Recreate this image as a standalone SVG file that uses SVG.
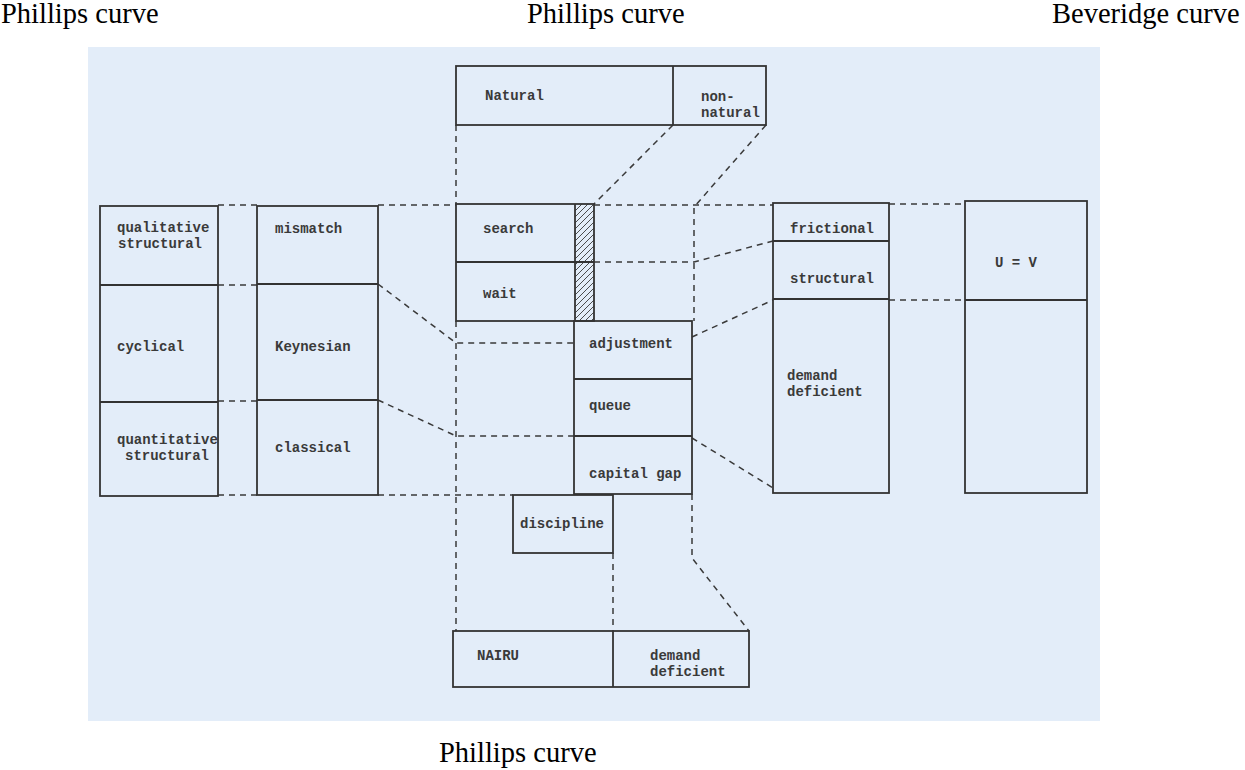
<svg xmlns="http://www.w3.org/2000/svg" width="1245" height="770" viewBox="0 0 1245 770">
<defs>
<pattern id="hatch" patternUnits="userSpaceOnUse" width="6" height="6">
<path d="M-1,7 L7,-1 M-1,1 L1,-1 M5,7 L7,5" stroke="#3a3a3a" stroke-width="0.9"/>
</pattern>
</defs>
<style>
.box{fill:none;stroke:#333;stroke-width:1.8}
.div{stroke:#333;stroke-width:1.8;fill:none}
.con{fill:none;stroke:#3a3a3a;stroke-width:1.5;stroke-dasharray:6 5}
.t{font-family:"Liberation Mono","DejaVu Sans Mono",monospace;font-weight:bold;font-size:14px;fill:#3a3a3a}
.cap{font-family:"Liberation Serif","Times New Roman",serif;font-size:28.5px;fill:#000}
</style>
<rect x="88" y="47" width="1012" height="674" fill="#e3edf9"/>
<g id="captions">
<text class="cap" x="1" y="23">Phillips curve</text>
<text class="cap" x="527" y="23">Phillips curve</text>
<text class="cap" x="1052" y="23">Beveridge curve</text>
<text class="cap" x="439" y="762">Phillips curve</text>
</g>
<g id="connectors">
<path class="con" d="M456,125 V204 M456,321 V631"/>
<path class="con" d="M673,125 L594,204"/>
<path class="con" d="M766,125 L694,207 V321"/>
<path class="con" d="M218,205 H257 M378,205 H456 M594,205 H773 M889,204 H965"/>
<path class="con" d="M218,285 H257 M218,401 H257 M218,495 H257 M378,495 H513"/>
<path class="con" d="M378,284 L456,343 H574"/>
<path class="con" d="M378,400 L456,436 H574"/>
<path class="con" d="M594,262 H694 L773,241"/>
<path class="con" d="M692,337 L773,300"/>
<path class="con" d="M692,438 L773,488"/>
<path class="con" d="M889,300 H965"/>
<path class="con" d="M613,553 V631"/>
<path class="con" d="M692,494 V558 L749,631"/>
</g>
<g id="natural">
<rect class="box" x="456" y="66" width="310" height="59"/>
<line class="div" x1="673" y1="66" x2="673" y2="125"/>
<text class="t" x="485" y="100">Natural</text>
<text class="t" x="701" y="101">non-</text>
<text class="t" x="701" y="117">natural</text>
</g>
<g id="types-left">
<rect class="box" x="100" y="206" width="118" height="290"/>
<line class="div" x1="100" y1="285" x2="218" y2="285"/>
<line class="div" x1="100" y1="402" x2="218" y2="402"/>
<text class="t" x="117" y="232">qualitative</text>
<text class="t" x="118" y="248">structural</text>
<text class="t" x="117" y="351">cyclical</text>
<text class="t" x="117" y="444">quantitative</text>
<text class="t" x="125" y="460">structural</text>
</g>
<g id="theories">
<rect class="box" x="257" y="206" width="121" height="289"/>
<line class="div" x1="257" y1="284" x2="378" y2="284"/>
<line class="div" x1="257" y1="400" x2="378" y2="400"/>
<text class="t" x="275" y="233">mismatch</text>
<text class="t" x="275" y="351">Keynesian</text>
<text class="t" x="275" y="452">classical</text>
</g>
<g id="search-wait">
<rect x="575" y="204" width="19" height="117" fill="url(#hatch)"/>
<rect class="box" x="456" y="204" width="138" height="117"/>
<line class="div" x1="575" y1="204" x2="575" y2="321"/>
<line class="div" x1="456" y1="262" x2="594" y2="262"/>
<text class="t" x="483" y="233">search</text>
<text class="t" x="483" y="298">wait</text>
</g>
<g id="adjustment">
<rect class="box" x="574" y="321" width="118" height="173"/>
<line class="div" x1="574" y1="379" x2="692" y2="379"/>
<line class="div" x1="574" y1="436" x2="692" y2="436"/>
<text class="t" x="589" y="348">adjustment</text>
<text class="t" x="589" y="410">queue</text>
<text class="t" x="589" y="478">capital gap</text>
</g>
<g id="discipline">
<rect class="box" x="513" y="495" width="100" height="58"/>
<text class="t" x="520" y="528">discipline</text>
</g>
<g id="nairu">
<rect class="box" x="453" y="631" width="296" height="56"/>
<line class="div" x1="613" y1="631" x2="613" y2="687"/>
<text class="t" x="477" y="660">NAIRU</text>
<text class="t" x="650" y="660">demand</text>
<text class="t" x="650" y="676">deficient</text>
</g>
<g id="frictional">
<rect class="box" x="773" y="203" width="116" height="290"/>
<line class="div" x1="773" y1="241" x2="889" y2="241"/>
<line class="div" x1="773" y1="299" x2="889" y2="299"/>
<text class="t" x="790" y="233">frictional</text>
<text class="t" x="790" y="283">structural</text>
<text class="t" x="787" y="380">demand</text>
<text class="t" x="787" y="396">deficient</text>
</g>
<g id="uv">
<rect class="box" x="965" y="201" width="122" height="292"/>
<line class="div" x1="965" y1="300" x2="1087" y2="300"/>
<text class="t" x="995" y="267">U = V</text>
</g>
</svg>
